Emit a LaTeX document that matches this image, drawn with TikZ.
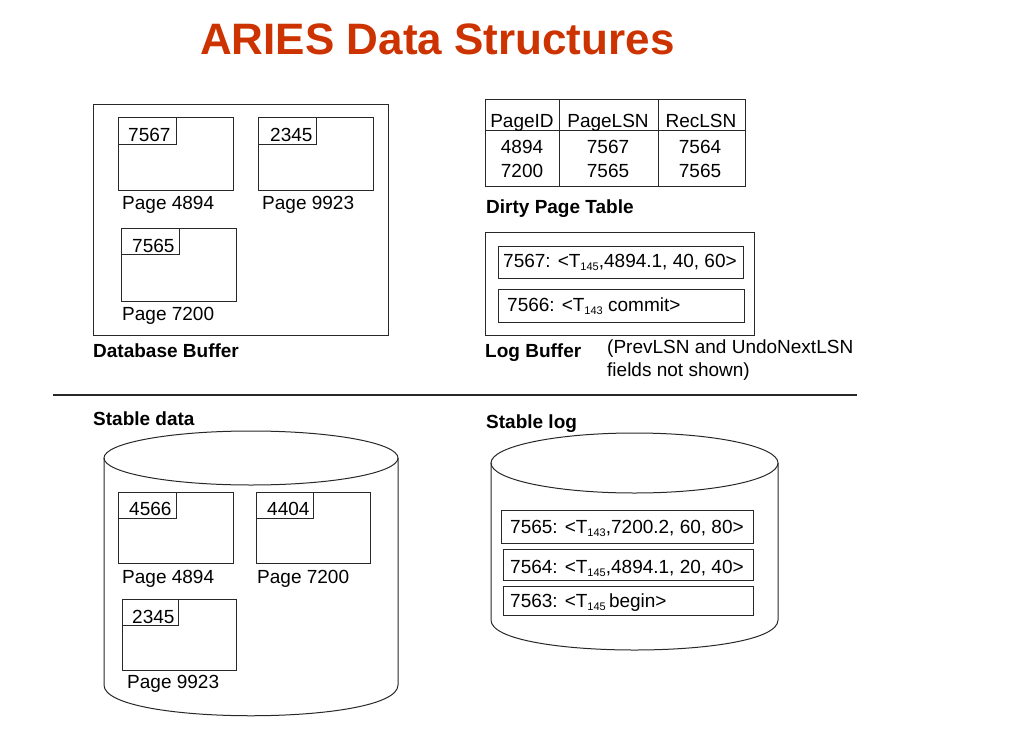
\documentclass[tikz,border=0pt]{standalone}
\usepackage{fontspec}
\setmainfont{Liberation Sans}
\definecolor{titlered}{RGB}{204,51,0}
\definecolor{ln}{RGB}{40,40,40}
\newcommand{\lsub}[1]{\raisebox{-3.5pt}{\fontsize{11}{11}\selectfont #1}}
\begin{document}
\begin{tikzpicture}[x=1pt,y=-1pt,
  txt/.style={font=\fontsize{19}{22}\selectfont, inner sep=0pt, anchor=base west},
  btxt/.style={txt, font=\fontsize{19}{22}\selectfont\bfseries},
  ctxt/.style={txt, anchor=base},
  box/.style={draw=ln, line width=1pt}]
\useasboundingbox (0,0) rectangle (1019,733);
\node[font=\fontsize{44}{50}\selectfont\bfseries, text=titlered, inner sep=0pt, anchor=base west] (title) at (200,55) {ARIES Data Structures};

% Database buffer
\draw[box] (93,105) rectangle (388,335);
\draw[box] (118,118) rectangle (233,190);
\draw[box] (118,118) rectangle (176,144);
\node[txt] (b1l) at (128,142) {7567};
\node[txt] (b1p) at (122,209) {Page 4894};
\draw[box] (258,118) rectangle (373,190);
\draw[box] (258,118) rectangle (316,144);
\node[txt] (b2l) at (270,142) {2345};
\node[txt] (b2p) at (262,209) {Page 9923};
\draw[box] (121,228) rectangle (236,301);
\draw[box] (121,228) rectangle (179,254);
\node[txt] (b3l) at (132,252) {7565};
\node[txt] (b3p) at (122,320) {Page 7200};
\node[btxt] (dbb) at (93,357) {Database Buffer};

% Dirty page table
\draw[box] (485,100) rectangle (745,186);
\draw[box] (485,130) -- (745,130);
\draw[box] (559,100) -- (559,186);
\draw[box] (658,100) -- (658,186);
\node[ctxt] (h1) at (522,128) {PageID};
\node[ctxt] (h2) at (608,128) {PageLSN};
\node[ctxt] (h3) at (701,128) {RecLSN};
\node[ctxt] (r11) at (522,153) {4894};
\node[ctxt] (r12) at (608,153) {7567};
\node[ctxt] (r13) at (700,153) {7564};
\node[ctxt] (r21) at (522,177) {7200};
\node[ctxt] (r22) at (608,177) {7565};
\node[ctxt] (r23) at (700,177) {7565};
\node[btxt] (dpt) at (486,213) {Dirty Page Table};

% Log buffer
\draw[box] (485,232) rectangle (754,335);
\draw[box] (498,246) rectangle (743,278);
\draw[box] (498,289) rectangle (744,322);
\node[txt] (lb1) at (503,267) {7567: <T\lsub{145},4894.1, 40, 60>};
\node[txt] (lb2) at (507,311) {7566: <T\lsub{143} commit>};
\node[btxt] (lbl) at (485,357) {Log Buffer};
\node[txt] (note1) at (607,353) {(PrevLSN and UndoNextLSN};
\node[txt] (note2) at (607,376) {fields not shown)};

% separator
\draw[draw=ln, line width=1.3pt] (53,395) -- (857,395);

% Stable data
\node[btxt] (sdl) at (93,425) {Stable data};
\draw[box] (251,458) ellipse [x radius=147pt, y radius=27pt];
\draw[box] (104,458) -- (104,685) .. controls (104,726) and (398,726) .. (398,685) -- (398,458);
\draw[box] (118,492) rectangle (233,563);
\draw[box] (118,492) rectangle (176,518);
\node[txt] (s1l) at (129,515) {4566};
\node[txt] (s1p) at (122,583) {Page 4894};
\draw[box] (256,492) rectangle (370,563);
\draw[box] (256,492) rectangle (313,518);
\node[txt] (s2l) at (267,515) {4404};
\node[txt] (s2p) at (257,583) {Page 7200};
\draw[box] (122,599) rectangle (236,670);
\draw[box] (122,599) rectangle (178,625);
\node[txt] (s3l) at (132,623) {2345};
\node[txt] (s3p) at (127,688) {Page 9923};

% Stable log
\node[btxt] (sll) at (486,428) {Stable log};
\draw[box] (634.5,463) ellipse [x radius=143.5pt, y radius=30pt];
\draw[box] (491,463) -- (491,620) .. controls (491,660) and (778,660) .. (778,620) -- (778,463);
\draw[box] (501,510) rectangle (753,543);
\draw[box] (503,549) rectangle (753,580);
\draw[box] (503,586) rectangle (753,615);
\node[txt] (sl1) at (510,533) {7565: <T\lsub{143},7200.2, 60, 80>};
\node[txt] (sl2) at (510,573) {7564: <T\lsub{145},4894.1, 20, 40>};
\node[txt] (sl3) at (510,607) {7563: <T\lsub{145}\,begin>};
\end{tikzpicture}
\end{document}
